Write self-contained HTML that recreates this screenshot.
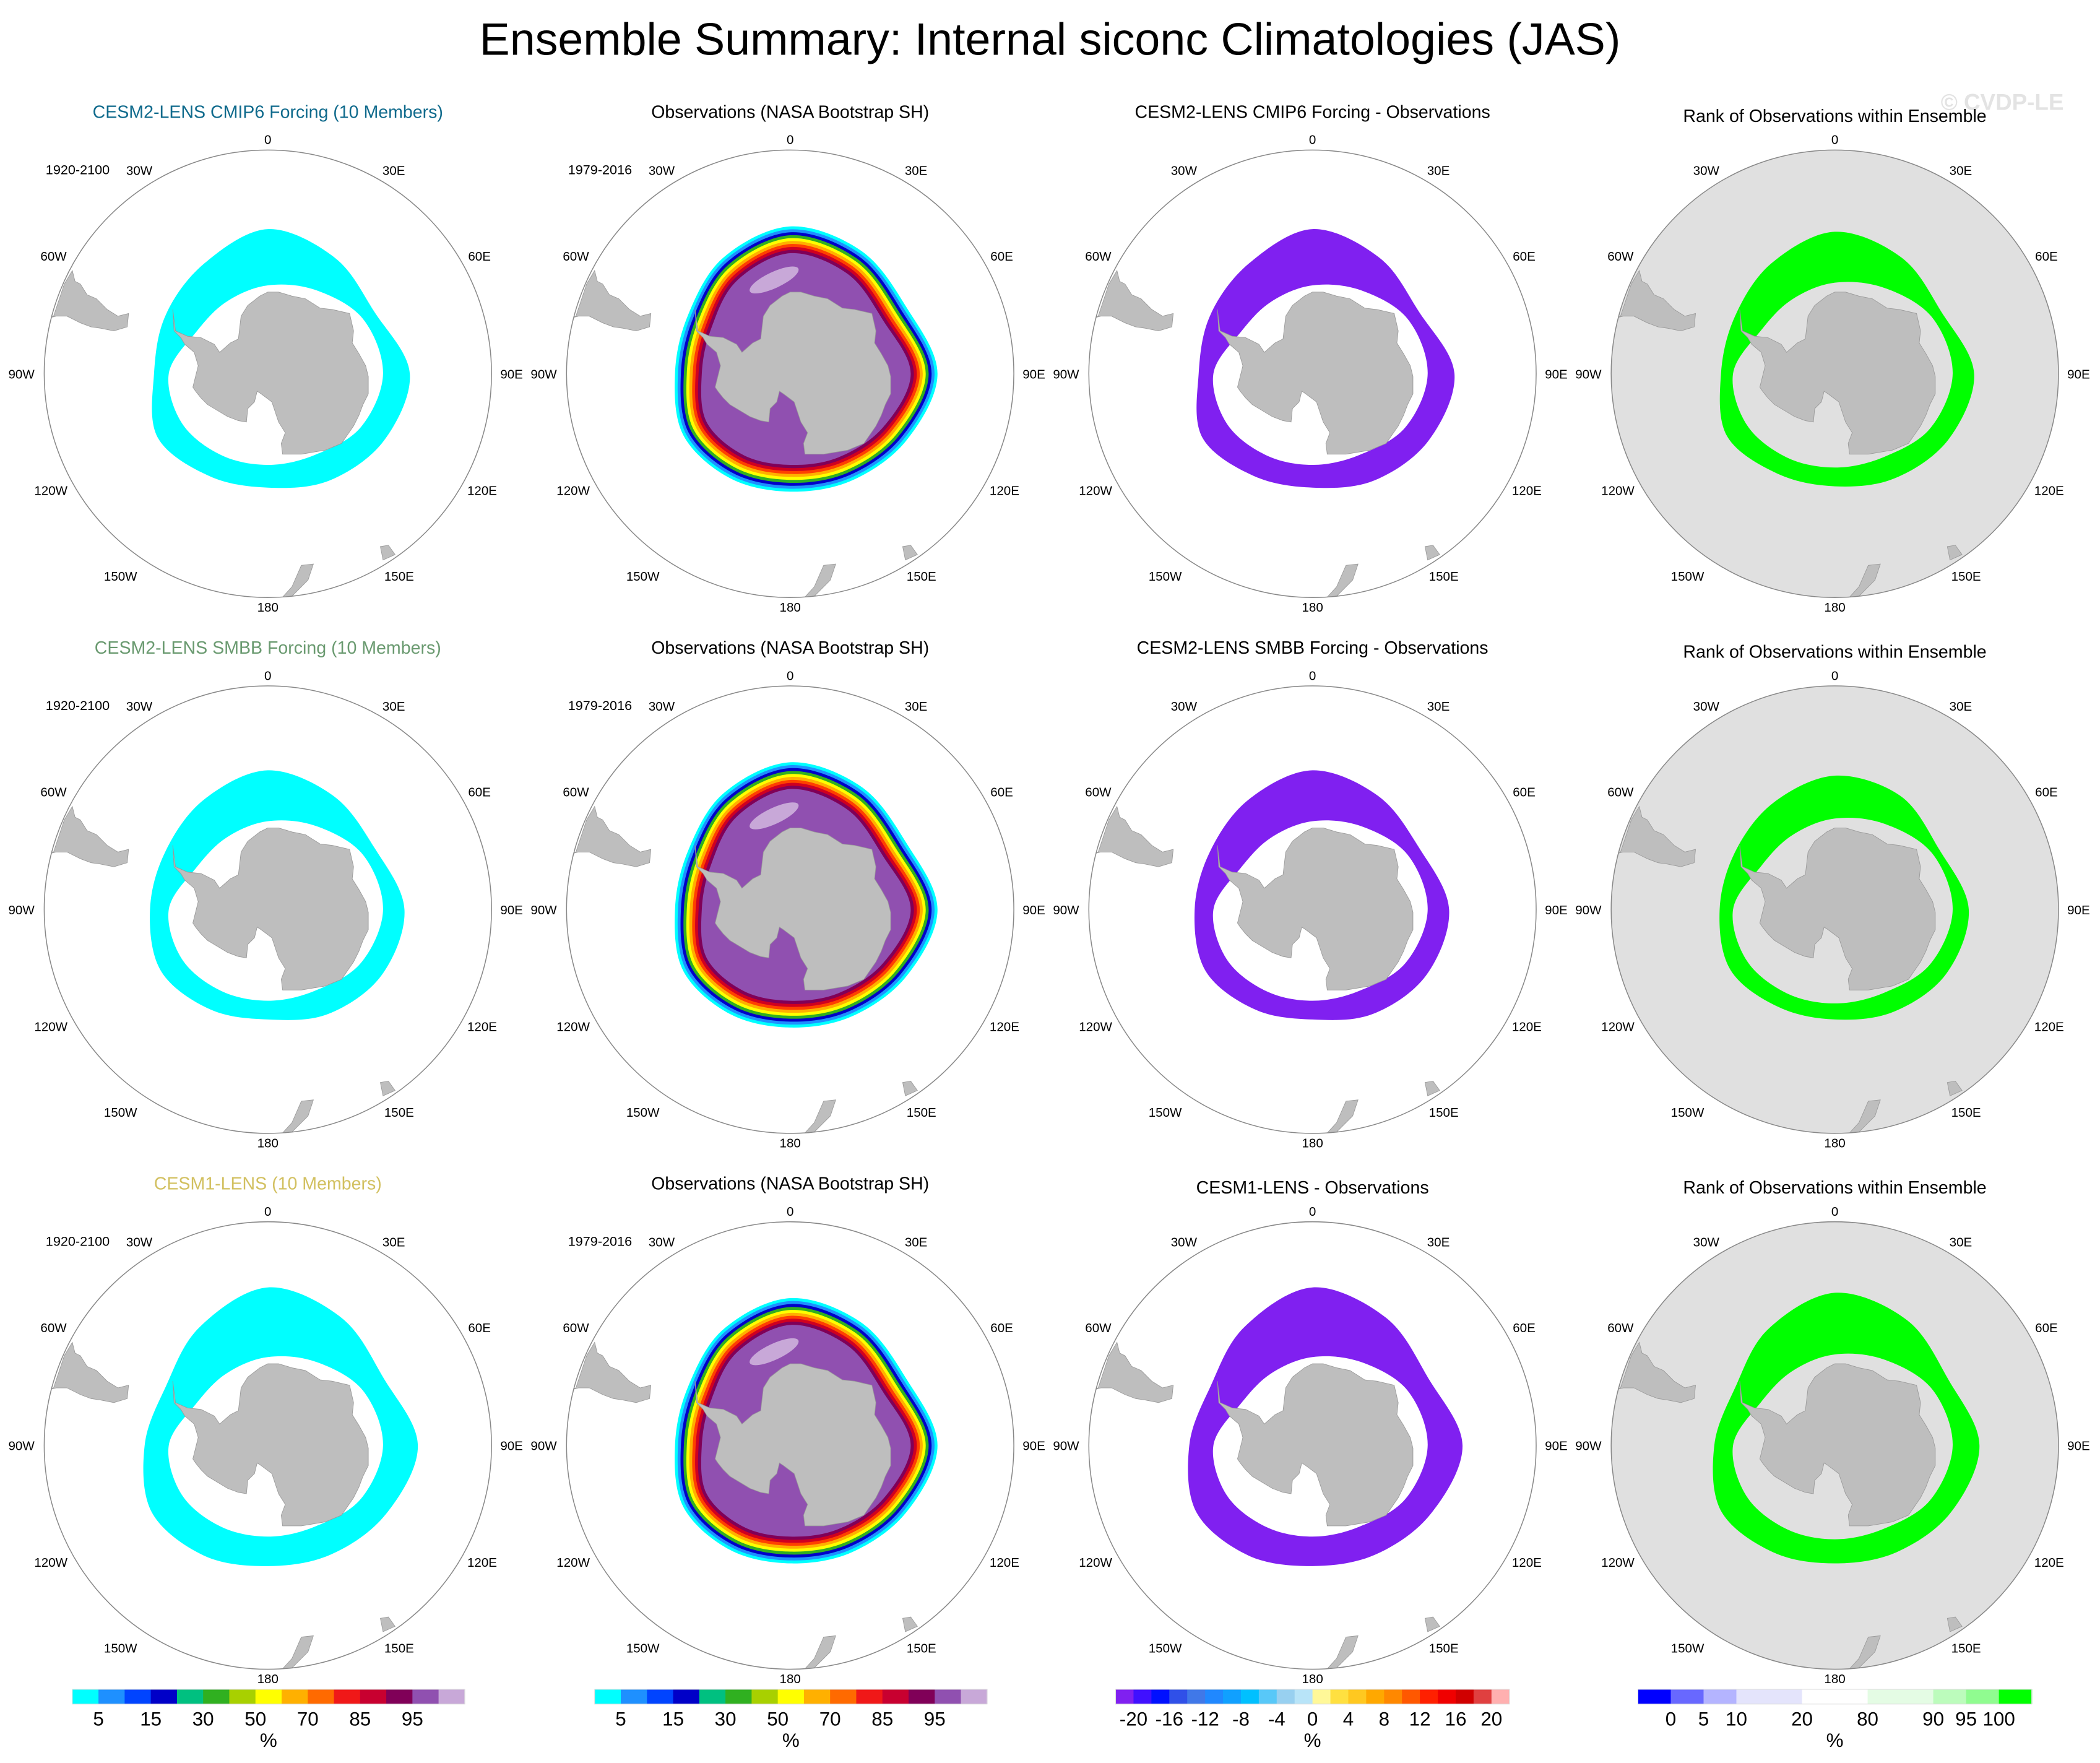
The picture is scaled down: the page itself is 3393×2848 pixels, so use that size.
<!DOCTYPE html>
<html><head><meta charset="utf-8"><style>
html,body{margin:0;padding:0;background:#fff}
svg{display:block}
text{font-family:"Liberation Sans",sans-serif}
</style></head><body>
<svg id="fig" xmlns="http://www.w3.org/2000/svg" width="3393" height="2848" viewBox="0 0 1568 1316" preserveAspectRatio="none">
<rect width="1568" height="1316" fill="#fff"/>
<text x="784" y="41" font-size="34" text-anchor="middle" fill="#000">Ensemble Summary: Internal siconc Climatologies (JAS)</text>
<text x="1495" y="82" font-size="17" text-anchor="middle" fill="#e3e3e3" font-weight="bold">© CVDP-LE</text>
<g id="panels"></g>
<g id="bars"></g>
</svg>
<script>
// ---- data ----
const lons = [0,30,60,90,120,150,180,210,240,270,300,330];
const modelOuterR1 = [108,100,92,106,100,92,85,88,95,85,88,95];
const modelOuterR2 = [104,98,92,102,98,90,82,86,92,88,88,95];
const modelOuterR3 = [118,110,100,112,102,94,90,95,100,92,88,102];
const modelInner = [66,72,82,86,80,70,68,70,74,74,62,62];
const obsOuter = [110,106,100,110,100,92,88,90,92,86,88,100];
const rankOuterR1 = [106,100,92,104,98,90,84,86,93,85,86,95];
const rankOuterR2 = [100,98,90,100,96,88,82,84,90,86,86,92];
const rankOuterR3 = [114,108,98,108,100,92,88,92,98,90,86,100];
const obsCmap = ["#00ffff","#1e90ff","#0044ff","#0000c8","#00c080","#30b020","#a8d000","#ffff00","#ffb000","#ff6a00","#f01818","#c80030","#800058","#9050b0","#c8a8d8"];
const obsTicks = ["5","15","30","50","70","85","95"];
const diffCmap = ["#8020f0","#4010ff","#0010ff","#3050e8","#4078e8","#2088ff","#10a0ff","#00c0ff","#58c8f8","#98d0f0","#b8e4f8","#fff898","#ffe040","#ffc820","#ffa800","#ff8800","#ff5800","#ff2000","#f00000","#d00000","#e04040","#ffb0b0"];
const diffTicks = ["-20","-16","-12","-8","-4","0","4","8","12","16","20"];
const rankCmap = ["#0000ff","#6868ff","#b4b4ff","#e4e4fc","#e4e4fc","#ffffff","#ffffff","#e4fce4","#e4fce4","#bcfcbc","#90fc90","#00ff00"];
const rankTicks = [["0",1],["5",2],["10",3],["20",5],["80",7],["90",9],["95",10],["100",11]];
const rowTitles = [["CESM2-LENS CMIP6 Forcing (10 Members)","#0f6a8c"],["CESM2-LENS SMBB Forcing (10 Members)","#6a9a70"],["CESM1-LENS (10 Members)","#d2c060"]];
const diffTitles = ["CESM2-LENS CMIP6 Forcing - Observations","CESM2-LENS SMBB Forcing - Observations","CESM1-LENS - Observations"];
const modelOuters = [modelOuterR1,modelOuterR2,modelOuterR3];
const rankOuters = [rankOuterR1,rankOuterR2,rankOuterR3];
const ant = [[-71,-48],[-69,-32],[-60,-28],[-50,-27],[-40,-22],[-36,-16],[-28,-23],[-22,-26],[-20,-43],[-15,-51],[-6,-58],[0,-61],[8,-61],[18,-58],[28,-56],[39,-49],[48,-48],[61,-45],[64,-32],[63,-23],[68,-15],[73,-6],[75,2],[75,15],[71,23],[68,31],[64,39],[55,52],[43,57],[25,60],[11,60],[10,52],[13,44],[8,36],[3,21],[-5,15],[-8,13],[-10,21],[-15,26],[-16,36],[-22,35],[-30,32],[-40,26],[-45,23],[-50,18],[-54,13],[-56,10],[-52,-6],[-55,-16],[-62,-22],[-65,-27],[-70,-32]];
const sam = [[-170,-40],[-160,-43],[-152,-67],[-146,-77],[-144,-69],[-140,-67],[-135,-59],[-128,-56],[-120,-48],[-112,-43],[-104,-45],[-105,-35],[-115,-32],[-125,-34],[-132,-35],[-140,-38],[-150,-43],[-158,-43],[-170,-40]];
const nz = [[8,170],[18,159],[25,143],[34,142],[30,154],[22,162],[14,170]];
const tas = [[84,129],[90,128],[95,135],[86,139]];

const NS="http://www.w3.org/2000/svg";
const svg=document.getElementById('fig');
const panelsG=document.getElementById('panels');
const barsG=document.getElementById('bars');
function mk(tag,attrs,parent){const e=document.createElementNS(NS,tag);for(const k in attrs)e.setAttribute(k,attrs[k]);(parent||svg).appendChild(e);return e;}
function pt(cx,cy,r,lon){const a=lon*Math.PI/180;return [cx+r*Math.sin(a),cy-r*Math.cos(a)];}
function ringPath(cx,cy,radii,off){
  const n=radii.length,pts=[];
  for(let i=0;i<n;i++){pts.push(pt(cx,cy,Math.max(radii[i]+off,2),lons[i]));}
  let d="";
  for(let i=0;i<n;i++){
    const p0=pts[(i-1+n)%n],p1=pts[i],p2=pts[(i+1)%n],p3=pts[(i+2)%n];
    if(i===0)d+="M"+p1[0].toFixed(1)+","+p1[1].toFixed(1);
    const c1=[p1[0]+(p2[0]-p0[0])/6,p1[1]+(p2[1]-p0[1])/6];
    const c2=[p2[0]-(p3[0]-p1[0])/6,p2[1]-(p3[1]-p1[1])/6];
    d+="C"+c1.map(v=>v.toFixed(1)).join(",")+" "+c2.map(v=>v.toFixed(1)).join(",")+" "+p2[0].toFixed(1)+","+p2[1].toFixed(1);
  }
  return d+"Z";
}
function poly(cx,cy,arr){return arr.map(p=>(cx+p[0])+","+(cy+p[1])).join(" ");}
const R=167;
const colsX=[200,590,980,1370];
const rowsY=[279,679,1079];
const lab=[["0",0,-175],["30E",94,-152],["60E",158,-88],["90E",182,0],["120E",160,87],["150E",98,151],["180",0,174],["150W",-110,151],["120W",-162,87],["90W",-184,0],["60W",-160,-88],["30W",-96,-152]];

function drawPanel(ci,ri){
  const cx=colsX[ci],cy=rowsY[ri];
  const g=mk('g',{},panelsG);
  
  
  const cid='clip'+ci+ri;
  const cp=mk('clipPath',{id:cid},g);mk('circle',{cx:cx,cy:cy,r:R},cp);
  const bg=mk('circle',{cx:cx,cy:cy,r:R,fill:ci===3?'#e0e0e0':'#fff'},g);
  
  
  const inner=mk('g',{'clip-path':'url(#'+cid+')'},g);
  if(ci===0||ci===2){
    const col=ci===0?'#00ffff':'#8020f0';
    const ring=mk('path',{d:ringPath(cx,cy,modelOuters[ri],0)+ringPath(cx,cy,modelInner,0),fill:col,'fill-rule':'evenodd'},inner);
    
    
  } else if(ci===1){
    const oc=["#00ffff","#1e90ff","#0000c8","#30b020","#ffff00","#ffb000","#ff4000","#d00020","#800058"];
    oc.forEach((c,k)=>{
      const b=mk('path',{d:ringPath(cx,cy,obsOuter,-k*2.2),fill:c},inner);
      
      
    });
    const pf=mk('path',{d:ringPath(cx,cy,obsOuter,-20),fill:'#9050b0'},inner);
    
    
    mk('ellipse',{cx:cx-12,cy:cy-70,rx:20,ry:6,fill:'#c8a8d8',transform:'rotate(-25 '+(cx-12)+' '+(cy-70)+')'},inner);
  } else {
    const ring=mk('path',{d:ringPath(cx,cy,rankOuters[ri],0)+ringPath(cx,cy,modelInner,2),fill:'#00ff00','fill-rule':'evenodd'},inner);
    
    
  }
  const a=mk('polygon',{points:poly(cx,cy,ant),fill:'#bebebe',stroke:'#999','stroke-width':0.4},inner);
  
  
  mk('polygon',{points:poly(cx,cy,sam),fill:'#bebebe',stroke:'#999','stroke-width':0.4},inner);
  mk('polygon',{points:poly(cx,cy,nz),fill:'#bebebe',stroke:'#999','stroke-width':0.4},inner);
  mk('polygon',{points:poly(cx,cy,tas),fill:'#bebebe',stroke:'#999','stroke-width':0.4},inner);
  const bd=mk('circle',{cx:cx,cy:cy,r:R,fill:'none',stroke:'#888','stroke-width':0.7},g);
  
  
  lab.forEach(l=>{
    const t=mk('text',{x:cx+l[1],y:cy+l[2]+3.5,'font-size':9.5,'text-anchor':'middle',fill:'#000'},g);
    t.textContent=l[0];
    
    
  });
  if(ci<2){
    const y=mk('text',{x:cx-142,y:cy-149,'font-size':10,'text-anchor':'middle',fill:'#000'},g);
    y.textContent=ci===0?'1920-2100':'1979-2016';
    
    
  }
  let title,color='#000',ty=cy-191;
  if(ci===0){title=rowTitles[ri][0];color=rowTitles[ri][1];}
  else if(ci===1)title='Observations (NASA Bootstrap SH)';
  else if(ci===2){title=diffTitles[ri];if(ri===2)ty+=3;}
  else {title='Rank of Observations within Ensemble';ty+=3;}
  const tt=mk('text',{x:cx,y:ty,'font-size':13.2,'text-anchor':'middle',fill:color},g);
  tt.textContent=title;
  
  
}
for(let r=0;r<3;r++)for(let c=0;c<4;c++)drawPanel(c,r);

function drawBar(x0,x1,colors,units,ticks,name){
  const g=mk('g',{},barsG);
  
  
  const total=units.reduce((a,b)=>a+b,0),uw=(x1-x0)/total;
  let x=x0;const bounds=[x0];
  colors.forEach((c,i)=>{
    const b=mk('rect',{x:x,y:1261,width:uw*units[i]+0.3,height:11,fill:c},g);
    
    
    x+=uw*units[i];bounds.push(x);
  });
  mk('rect',{x:x0,y:1261,width:x1-x0,height:11,fill:'none',stroke:'#ddd','stroke-width':0.5},g);
  ticks.forEach(t=>{
    const tx=mk('text',{x:bounds[t[1]],y:1288,'font-size':14.5,'text-anchor':'middle',fill:'#000'},g);
    tx.textContent=t[0];
    
    
  });
  const u=mk('text',{x:(x0+x1)/2,y:1304,'font-size':14.5,'text-anchor':'middle',fill:'#000'},g);
  u.textContent='%';
  
  
}
const obsT=obsTicks.map((t,i)=>[t,1+2*i]);
drawBar(54,347,obsCmap,obsCmap.map(()=>1),obsT,'colorbar-model');
drawBar(444,737,obsCmap,obsCmap.map(()=>1),obsT,'colorbar-observations');
drawBar(833,1127,diffCmap,diffCmap.map(()=>1),diffTicks.map((t,i)=>[t,1+2*i]),'colorbar-difference');
drawBar(1223,1517,rankCmap,rankCmap.map(()=>1),rankTicks,'colorbar-rank');
</script>
</body></html>
